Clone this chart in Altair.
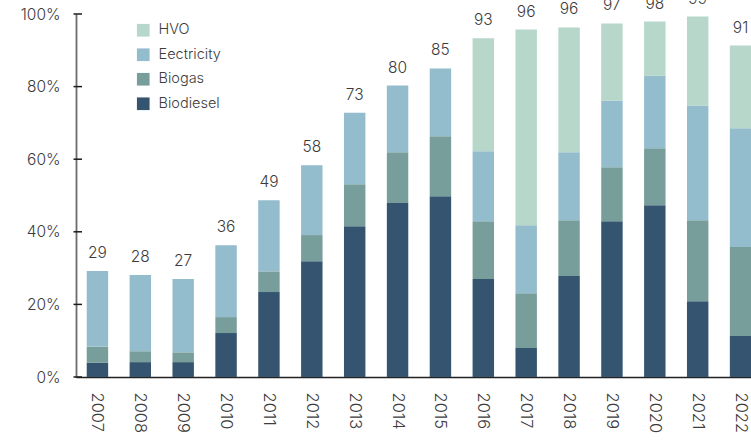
import altair as alt
import pandas as pd

years = [str(y) for y in range(2007, 2023)]
biodiesel = [3.9, 4.1, 4.1, 12.1, 23.4, 31.9, 41.5, 47.9, 49.8, 27.0, 8.0, 27.8, 42.9, 47.3, 20.9, 11.3]
biogas = [4.4, 3.0, 2.7, 4.4, 5.7, 7.2, 11.6, 14.0, 16.5, 15.9, 15.1, 15.4, 14.9, 15.7, 22.3, 24.5]
electricity = [20.9, 21.0, 20.2, 19.8, 19.6, 19.2, 19.7, 18.4, 18.7, 19.3, 18.7, 18.7, 18.4, 20.0, 31.6, 32.7]
hvo = [0, 0, 0, 0, 0, 0, 0, 0, 0, 31.1, 53.9, 34.4, 21.2, 14.9, 24.5, 22.8]

# stacking order, bottom to top
series = ["Biodiesel", "Biogas", "Eectricity", "HVO"]
colors = {"Biodiesel": "#35546f", "Biogas": "#789e9b", "Eectricity": "#93bccc", "HVO": "#b6d7c9"}
legend_order = ["HVO", "Eectricity", "Biogas", "Biodiesel"]
y_ticks = [0, 20, 40, 60, 80, 100]

rows = []
for i, yr in enumerate(years):
    for rank, (name, vals) in enumerate(zip(series, [biodiesel, biogas, electricity, hvo])):
        rows.append({"year": yr, "fuel": name, "share": vals[i], "rank": rank})
df = pd.DataFrame(rows)

totals = pd.DataFrame({
    "year": years,
    "total": [a + b + c + d for a, b, c, d in zip(biodiesel, biogas, electricity, hvo)],
})
totals["label"] = totals["total"].round().astype(int).astype(str)

FONT = "Inter"
WEIGHT = 300
TXT = "#3c3c3c"

x_enc = alt.X(
    "year:N",
    sort=years,
    scale=alt.Scale(range=[0, 686], paddingInner=0.5, paddingOuter=0.25),
    axis=alt.Axis(
        title=None, labelAngle=90, labelFontSize=16.5, labelColor=TXT, labelFont=FONT,
        labelFontWeight=WEIGHT, ticks=False, labelPadding=15,
        domainColor="#222222", domainWidth=1.5,
    ),
)
y_scale = alt.Scale(domain=[0, 100], nice=False)

bars = alt.Chart(df).mark_bar().encode(
    x=x_enc,
    y=alt.Y(
        "share:Q",
        stack="zero",
        scale=y_scale,
        axis=alt.Axis(
            title=None, values=y_ticks, labelExpr="datum.value + '%'",
            labelFontSize=15.5, labelColor=TXT, labelFont=FONT, labelFontWeight=WEIGHT,
            ticks=False, labelPadding=16, domainColor="#6b6b6b", domainWidth=1.8, grid=False,
        ),
    ),
    color=alt.Color(
        "fuel:N",
        scale=alt.Scale(domain=legend_order, range=[colors[s] for s in legend_order]),
        legend=alt.Legend(
            title=None, orient="none", legendX=60, legendY=9,
            symbolType="square", symbolSize=160, symbolStrokeWidth=0,
            labelFontSize=14.5, labelFont=FONT, labelFontWeight=WEIGHT, labelColor=TXT,
            labelOffset=8, rowPadding=9.5, padding=0,
        ),
    ),
    order=alt.Order("rank:Q", sort="ascending"),
)

labels = alt.Chart(totals).mark_text(
    baseline="bottom", dy=-10, fontSize=15.5, font=FONT, fontWeight=WEIGHT, color=TXT
).encode(
    x=alt.X("year:N", sort=years),
    y=alt.Y("total:Q", scale=y_scale),
    text="label:N",
)

tick_marks = alt.Chart(pd.DataFrame({"v": y_ticks})).mark_rule(
    color="#1a1a1a", strokeWidth=1.5
).encode(
    y=alt.Y("v:Q", scale=y_scale),
    x=alt.value(-2.5),
    x2=alt.value(6),
)

chart = (
    alt.layer(bars, labels, tick_marks)
    .properties(
        width=675,
        height=363,
        autosize=alt.AutoSizeParams(type="none"),
        padding={"left": 76, "top": 14, "right": 0, "bottom": 64},
        background="white",
    )
    .configure_view(stroke=None)
)

chart.save("out.html", embed_options={"renderer": "svg", "actions": False})
